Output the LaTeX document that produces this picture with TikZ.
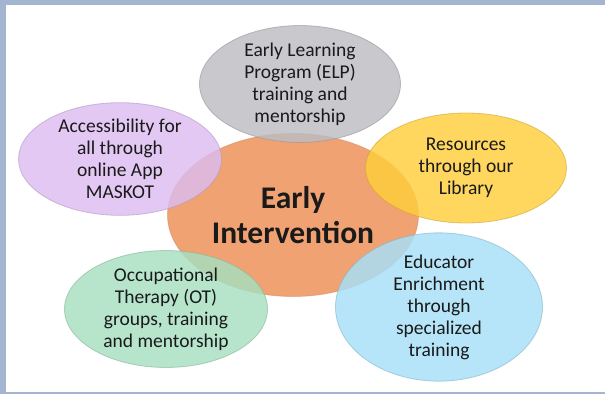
\documentclass[tikz,border=0pt]{standalone}
\usepackage{fontspec}
\setmainfont{Carlito}
\usetikzlibrary{shapes.geometric}
\definecolor{framecol}{HTML}{A3B5D0}
\definecolor{txtcol}{HTML}{1A1A1A}
\definecolor{orangeEI}{HTML}{F0A272}
\definecolor{grayELP}{HTML}{BCBCC2}
\definecolor{purpleACC}{HTML}{DCBDF0}
\definecolor{yellowRES}{HTML}{FFCF3C}
\definecolor{greenOT}{HTML}{A6E0C0}
\definecolor{blueEDU}{HTML}{A6E0FA}
\begin{document}
\begin{tikzpicture}[x=1pt,y=1pt]
    \tikzstyle{every node}+=[inner sep=0pt]
    \tikzstyle{bubble}=[ellipse, minimum width=202pt, minimum height=110pt, align=center,
        text=txtcol, font=\fontsize{19.5}{22}\selectfont, line width=0.8pt,
        fill opacity=0.82, draw opacity=0.6, text opacity=1]
    \useasboundingbox (0,0) rectangle (605,-394);
    % frame
    \fill [framecol] (0,0) rectangle (605,-394);
    \fill [white] (6,-5) rectangle (605,-392);
    % centre
    \node [ellipse, fill=orangeEI, draw=orangeEI!85!black, draw opacity=0.5, line width=0.8pt,
        minimum width=251pt, minimum height=163pt] (ei) at (293,-215) {};
    % satellites
    \node [bubble, fill=grayELP, draw=grayELP!80!black, minimum width=201pt, minimum height=107pt]
        (elp) at (300,-84) {Early Learning\\Program (ELP)\\training and\\mentorship};
    \node [bubble, fill=purpleACC, draw=purpleACC!80!black, minimum width=203pt, minimum height=112pt]
        (acc) at (120,-159) {Accessibility for\\all through\\online App\\MASKOT};
    \node [bubble, fill=yellowRES, draw=yellowRES!80!black, minimum width=201pt, minimum height=110pt]
        (res) at (466,-168) {Resources\\through our\\Library};
    \node [bubble, fill=greenOT, draw=greenOT!80!black, minimum width=203pt, minimum height=111pt]
        (ot) at (166,-309) {Occupational\\Therapy (OT)\\groups, training\\and mentorship};
    \node [bubble, fill=blueEDU, draw=blueEDU!80!black, minimum width=207pt, minimum height=111pt]
        (edu) at (439,-307) {Educator\\Enrichment\\through\\specialized\\training};
    % title
    \node [text=txtcol, align=center, font=\bfseries\fontsize{31.5}{35}\selectfont]
        (title) at (ei.center) {Early\\Intervention};
\end{tikzpicture}
\end{document}
